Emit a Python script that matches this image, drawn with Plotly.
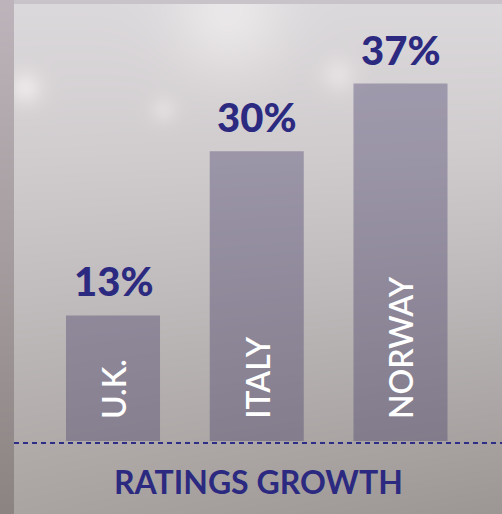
import base64, struct, zlib
import numpy as np
import plotly.graph_objects as go

# ---- data ----
countries = ["U.K.", "ITALY", "NORWAY"]
growth = [13, 30, 37]
value_labels = ["13%", "30%", "37%"]
title_text = "RATINGS GROWTH"

W, H = 502, 514
NAVY = "#2c2a80"

# ---- background image (decorative) ----
def make_bg():
    yy, xx = np.mgrid[0:H, 0:W].astype(float)
    stops_y = [0, 150, 300, 514]
    cols = np.array([[220, 217, 220], [210, 206, 208], [193, 188, 189], [170, 165, 162]], float)
    img = np.zeros((H, W, 3))
    for c in range(3):
        img[..., c] = np.interp(yy, stops_y, cols[:, c])
    img -= (xx / W * (yy / H) ** 1.5 * 14)[..., None]
    for (cx, cy, r, a) in [(228, 18, 40, 16), (25, 88, 12, 20), (163, 110, 10, 12),
                           (338, 75, 12, 14)]:
        g = np.exp(-((xx - cx) ** 2 + (yy - cy) ** 2) / (2 * r * r)) * a
        img += g[..., None] * np.array([1.0, 1.0, 0.95])
    left = xx < 14
    for c, (t, b) in enumerate([(190, 140), (181, 132), (188, 130)]):
        img[..., c] = np.where(left, np.interp(yy, [0, 514], [t, b]), img[..., c])
    top = (yy < 4) & ~left
    for c, v in enumerate([200, 195, 200]):
        img[..., c] = np.where(top, v, img[..., c])
    img = np.clip(img, 0, 255).astype(np.uint8)
    raw = b"".join(b"\x00" + img[i].tobytes() for i in range(H))

    def chunk(tag, data):
        return struct.pack(">I", len(data)) + tag + data + struct.pack(">I", zlib.crc32(tag + data) & 0xffffffff)
    png = b"\x89PNG\r\n\x1a\n" + chunk(b"IHDR", struct.pack(">IIBBBBB", W, H, 8, 2, 0, 0, 0)) \
        + chunk(b"IDAT", zlib.compress(raw, 9)) + chunk(b"IEND", b"")
    return "data:image/png;base64," + base64.b64encode(png).decode()

# ---- scales ----
base_px = 441          # pixel row of zero
k = 9.66               # px per unit
y_lo = -(H - base_px) / k
y_hi = base_px / k
cx0, step = 113, 143.75
x_lo = -cx0 / step
x_hi = (W - cx0) / step

fig = go.Figure()
fig.add_trace(go.Bar(
    x=countries, y=growth,
    marker=dict(color="rgba(60,54,100,0.36)", line=dict(width=0)),
    hoverinfo="skip",
))

annotations = []
for c, v, lab in zip(countries, growth, value_labels):
    annotations.append(dict(x=c, y=v, xref="x", yref="y", text=lab, showarrow=False,
                            yanchor="bottom", yshift=8,
                            font=dict(family="Lato", size=40, color=NAVY, weight=900)))
    annotations.append(dict(x=c, y=0, xref="x", yref="y", text=c, showarrow=False,
                            yanchor="bottom", yshift=20, textangle=-90,
                            font=dict(family="Lato", size=32, color="white", weight=600)))
annotations.append(dict(x=258 / W, y=1 - 481 / H, xref="paper", yref="paper", text=title_text,
                        showarrow=False, xanchor="center", yanchor="middle",
                        font=dict(family="Lato", size=32, color=NAVY, weight="bold")))

fig.update_layout(
    width=W, height=H,
    margin=dict(l=0, r=0, t=0, b=0),
    paper_bgcolor="#c8c4c5", plot_bgcolor="rgba(0,0,0,0)",
    bargap=0.346, showlegend=False,
    xaxis=dict(range=[x_lo, x_hi], showgrid=False, zeroline=False, showticklabels=False, fixedrange=True),
    yaxis=dict(range=[y_lo, y_hi], showgrid=False, zeroline=False, showticklabels=False, fixedrange=True),
    annotations=annotations,
    images=[dict(source=make_bg(), xref="paper", yref="paper", x=0, y=1, sizex=1, sizey=1,
                 xanchor="left", yanchor="top", sizing="stretch", layer="below")],
    shapes=[dict(type="line", xref="paper", yref="paper", x0=14 / W, x1=1,
                 y0=1 - 443 / H, y1=1 - 443 / H,
                 line=dict(color="#2e2e86", width=2, dash="5px,4px"))],
)

fig.write_html("out.html", config={"displayModeBar": False},
               post_script="document.body.style.margin='0';document.body.style.overflow='hidden';")
